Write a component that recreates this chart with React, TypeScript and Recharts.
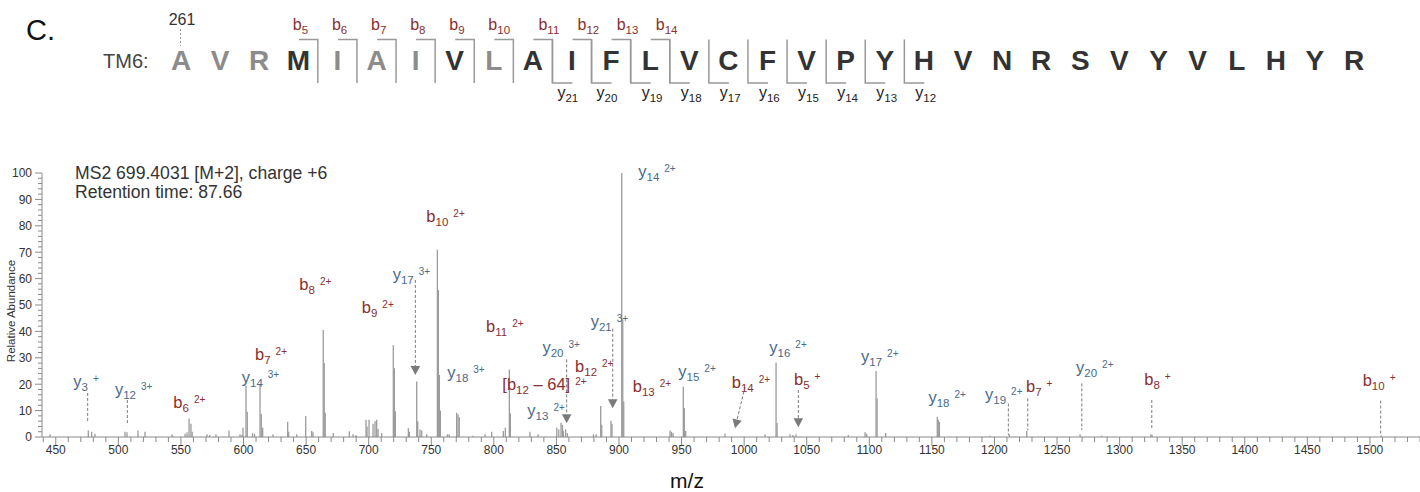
import React from 'react';
import { ComposedChart, XAxis, YAxis, ReferenceLine, Scatter } from 'recharts';

const FONT = '"Liberation Sans", Arial, Helvetica, sans-serif';
const B_COLOR = '#8b2e2e';
const Y_COLOR = '#4a6a8a';
const PEAK_COLOR = '#9b9b9b';
const AXIS_COLOR = '#8a8a8a';

// ---------- header (peptide sequence) ----------
const SEQUENCE = ['A','V','R','M','I','A','I','V','L','A','I','F','L','V','C','F','V','P','Y','H','V','N','R','S','V','Y','V','L','H','Y','R'];
const SEQ_DARK = [0,0,0,1,0,0,0,1,0,1,1,1,1,1,1,1,1,1,1,1,1,1,1,1,1,1,1,1,1,1,1];
const B_FRAGMENTS = [5,6,7,8,9,10,11,12,13,14];
const Y_FRAGMENTS = [21,20,19,18,17,16,15,14,13,12];
const START_RESIDUE = '261';
const PANEL = 'C.';
const PEPTIDE_NAME = 'TM6:';
const TITLE_LINES = ['MS2 699.4031 [M+2], charge +6', 'Retention time: 87.66'];

// ---------- spectrum ----------
const PEAK_MZ = [445.4, 476.0, 478.7, 481.3, 505.3, 506.9, 515.7, 521.3, 542.9, 553.3,
  554.9, 556.5, 558.0, 559.0, 570.8, 573.0, 578.0, 588.4, 597.2, 598.8,
  599.6, 602.0, 603.0, 607.2, 608.8, 613.2, 614.2, 615.3, 623.6, 635.3,
  636.1, 642.5, 649.7, 654.5, 655.5, 663.7, 664.5, 665.3, 671.7, 684.5,
  687.5, 689.9, 697.9, 698.7, 700.3, 703.5, 705.1, 706.4, 707.5, 710.4,
  719.7, 720.5, 721.3, 731.7, 732.5, 738.4, 739.2, 741.0, 742.4, 746.4,
  754.9, 755.7, 756.5, 757.3, 762.9, 764.3, 770.3, 771.4, 772.4, 783.4,
  793.0, 798.3, 807.6, 809.2, 812.4, 813.2, 828.9, 835.3, 850.3, 851.9,
  853.7, 854.8, 855.6, 857.4, 858.8, 879.6, 881.7, 885.4, 886.2, 893.6,
  894.4, 902.2, 903.0, 903.8, 940.8, 942.0, 943.2, 951.4, 952.2, 953.3,
  984.7, 1016.7, 1025.5, 1026.3, 1036.6, 1039.0, 1041.4, 1083.2, 1096.6, 1097.9,
  1105.4, 1106.2, 1113.1, 1154.3, 1155.1, 1156.0, 1196.5, 1211.9, 1225.8, 1268.4,
  1285.7, 1324.9, 1326.0, 1509.0];
const PEAK_INTENSITY = [1, 2.5, 2, 1.2, 2, 1.8, 2.5, 2, 1, 1.2,
  1.8, 7, 5, 2, 1, 0.8, 1, 2.5, 1, 0.8,
  3.5, 19.5, 9.6, 1.5, 1.2, 19.7, 8.7, 3.5, 1, 5.8,
  2, 1, 8, 2.3, 1.8, 40.5, 28, 9.2, 1.5, 2.2,
  1, 0.8, 6.5, 4, 6.5, 5, 6, 6.5, 3, 1.5,
  34.8, 26, 9.8, 3.3, 2, 21, 6, 2.8, 2.5, 1,
  71, 55.7, 23.5, 10, 1, 1, 9.2, 8.5, 7.5, 0.5,
  1, 2, 2.3, 3.5, 25.6, 9, 2, 1, 3.5, 2.8,
  5.4, 4.6, 2.4, 2.8, 1.5, 1, 1, 11.7, 4.6, 6.2,
  5, 100, 44.5, 13.4, 2.5, 2, 1.5, 19, 11, 2.3,
  1.2, 1, 28.2, 5.3, 1, 0.8, 1, 0.8, 1.8, 1.2,
  25, 14.7, 1.5, 7.7, 6.5, 5.7, 0.5, 1, 2.3, 1,
  0.5, 1, 0.8, 0.7];

// annotation labels: anchor (left of text, baseline)
const LABEL_ION = ['y','y','b','y','b','b','b','b','y','y','b','[b','y','y','b','y','y','b','y','b','y','b','y','y','y','b','y','b','b'];
const LABEL_SUB = ['3','12','6','14','7','8','9','10','17','18','11','12','13','20','12','21','14','13','15','14','16','5','17','18','19','7','20','8','10'];
const LABEL_SUFFIX = ['','','','','','','','','','','',' \u2013 64]','','','','','','','','','','','','','','','','',''];
const LABEL_CHARGE = ['+','3+','2+','3+','2+','2+','2+','2+','3+','3+','2+','2+','2+','3+','2+','3+','2+','2+','2+','2+','2+','+','2+','2+','2+','+','2+','+','+'];
const LABEL_MZ = [464.0, 497.3, 543.9, 598.6, 609.2, 644.6, 694.5, 746.1, 719.2, 762.8, 793.8, 806.8, 826.8, 838.8, 864.9, 877.4, 915.4, 911.0, 947.4, 990.1, 1020.1, 1039.8, 1093.4, 1147.2, 1192.5, 1225.2, 1265.2, 1319.7, 1494.2];
const LABEL_AT = [19.0, 15.9, 10.9, 20.3, 29.2, 55.7, 46.9, 81.6, 59.5, 22.2, 39.9, 17.8, 8.0, 31.7, 24.5, 41.8, 98.4, 17.2, 22.8, 18.4, 31.7, 19.7, 28.5, 12.8, 14.0, 17.2, 24.1, 19.7, 19.3];

// dashed pointers from a label down to its (small) peak
const POINTER_FROM_MZ = [475.5, 507.2, 1211.1, 1226.6, 1269.8, 1325.7, 1508.6, 737.3, 858.2, 895.0, 1000.7, 1043.3];
const POINTER_FROM = [16.7, 14.0, 12.7, 14.6, 20.3, 14.0, 13.8, 59.5, 29.4, 41.0, 19.0, 17.8];
const POINTER_TO_MZ = [475.5, 507.2, 1211.1, 1226.6, 1269.8, 1325.7, 1508.6, 737.3, 858.2, 895.0, 992.7, 1043.3];
const POINTER_TO = [5.3, 4.5, 0.7, 2.6, 2.6, 2.6, 0.8, 23.5, 5.2, 10.9, 3.3, 3.7];
const POINTER_ARROW = [0, 0, 0, 0, 0, 0, 0, 1, 1, 1, 1, 1];

const X_LABELS = [450, 500, 550, 600, 650, 700, 750, 800, 850, 900, 950, 1000, 1050, 1100, 1150, 1200, 1250, 1300, 1350, 1400, 1450, 1500];
const Y_LABELS = [0, 10, 20, 30, 40, 50, 60, 70, 80, 90, 100];
const X_DOMAIN: [number, number] = [439, 1540];

const xTicks: number[] = [];
for (let v = 440; v <= 1540; v += 10) xTicks.push(v);
const yTicks: number[] = [];
for (let v = 0; v <= 100; v += 2) yTicks.push(v);

const labelData = LABEL_ION.map((ion, i) => ({
  x: LABEL_MZ[i], y: LABEL_AT[i], ion, sub: LABEL_SUB[i], suffix: LABEL_SUFFIX[i], charge: LABEL_CHARGE[i],
}));

const XTick = (props: any) => {
  const { x, y, payload } = props;
  const v = payload.value;
  const major = X_LABELS.includes(v);
  return (
    <g>
      <line x1={x} x2={x} y1={y} y2={y + (major ? 9 : 5)} stroke={AXIS_COLOR} strokeWidth={1} />
      {major && (
        <text x={x} y={y + 16.5} textAnchor="middle" fontSize={12} fill="#333" fontFamily={FONT}>{v}</text>
      )}
    </g>
  );
};

const YTick = (props: any) => {
  const { x, y, payload } = props;
  const v = payload.value;
  const major = Y_LABELS.includes(v);
  return (
    <g>
      <line x1={x - (major ? 7 : 4)} x2={x} y1={y} y2={y} stroke={AXIS_COLOR} strokeWidth={1} />
      {major && (
        <text x={x - 10} y={y + 4.3} textAnchor="end" fontSize={12} fill="#333" fontFamily={FONT}>{v}</text>
      )}
    </g>
  );
};

const LabelShape = (props: any) => {
  const { cx, cy, payload } = props;
  if (cx == null || cy == null) return <g />;
  const color = payload.ion.includes('b') ? B_COLOR : Y_COLOR;
  const hasSuffix = payload.suffix !== '';
  return (
    <text x={cx} y={cy} fill={color} fontSize={16.5} fontFamily={FONT}>
      <tspan>{payload.ion}</tspan>
      <tspan fontSize={11.5} dy={4}>{payload.sub}</tspan>
      {hasSuffix ? <tspan fontSize={16.5} dy={-4}>{payload.suffix}</tspan> : null}
      <tspan fontSize={10} dx={5} dy={hasSuffix ? -5 : -9}>{payload.charge}</tspan>
    </text>
  );
};

const makePointer = (arrow: boolean) => (props: any) => {
  const { x1, y1, x2, y2 } = props;
  if (!arrow) {
    return <line x1={x1} y1={y1} x2={x2} y2={y2} stroke="#7a7a7a" strokeWidth={1} strokeDasharray="3 2" />;
  }
  const dx = x2 - x1;
  const dy = y2 - y1;
  const len = Math.hypot(dx, dy) || 1;
  const ux = dx / len;
  const uy = dy / len;
  const h = 9;
  const w = 4.8;
  const bx = x2 - ux * h;
  const by = y2 - uy * h;
  const nx = -uy;
  const ny = ux;
  return (
    <g>
      <line x1={x1} y1={y1} x2={bx} y2={by} stroke="#7a7a7a" strokeWidth={1} strokeDasharray="3 2" />
      <polygon points={`${x2},${y2} ${bx + nx * w},${by + ny * w} ${bx - nx * w},${by - ny * w}`} fill="#7a7a7a" />
    </g>
  );
};

// header layout helpers
const resX = (i: number) => 181 + i * 39.1;
const gapX = (i: number) => resX(i) + 19.55;

const Header = () => (
  <svg width={1420} height={492} style={{ position: 'absolute', left: 0, top: 0, pointerEvents: 'none' }}>
    <text x={26} y={40} fontSize={29} fill="#111" fontFamily={FONT}>{PANEL}</text>
    <text x={103} y={68} fontSize={20} fill="#444" fontFamily={FONT}>{PEPTIDE_NAME}</text>
    <text x={182} y={25} fontSize={16} fill="#333" textAnchor="middle" fontFamily={FONT}>{START_RESIDUE}</text>
    <line x1={180.5} x2={180.5} y1={29} y2={46} stroke="#999" strokeWidth={1} strokeDasharray="2 2" />
    {SEQUENCE.map((r, i) => (
      <text key={'r' + i} x={resX(i)} y={70} fontSize={28} fontWeight="bold" textAnchor="middle"
        fill={SEQ_DARK[i] ? '#333' : '#8c8c8c'} fontFamily={FONT}>{r}</text>
    ))}
    {B_FRAGMENTS.map((n) => {
      const gx = gapX(n - 2);
      return (
        <g key={'b' + n}>
          <path d={`M${gx - 19},39.5 H${gx} V83`} fill="none" stroke="#999" strokeWidth={1.5} />
          <text x={gx - (n <= 10 ? 25 : 14)} y={30} fill={B_COLOR} fontSize={16} fontFamily={FONT}>
            <tspan>b</tspan><tspan fontSize={11.5} dy={4}>{n}</tspan>
          </text>
        </g>
      );
    })}
    {Y_FRAGMENTS.map((n) => {
      const gx = gapX(30 - n);
      return (
        <g key={'y' + n}>
          <path d={`M${gx},39.5 V83 H${gx + 20}`} fill="none" stroke="#999" strokeWidth={1.5} />
          <text x={gx + (n >= 20 ? 5 : 11)} y={98} fill="#222" fontSize={16} fontFamily={FONT}>
            <tspan>y</tspan><tspan fontSize={11.5} dy={4}>{n}</tspan>
          </text>
        </g>
      );
    })}
    <text x={75} y={179} fontSize={17.6} fill="#333" fontFamily={FONT}>{TITLE_LINES[0]}</text>
    <text x={75} y={198} fontSize={17.6} fill="#333" fontFamily={FONT}>{TITLE_LINES[1]}</text>
    <text x={15} y={311} fontSize={11.5} fill="#333" textAnchor="middle" fontFamily={FONT}
      transform="rotate(-90, 15, 311)">Relative Abundance</text>
    <text x={687} y={488} fontSize={21} fill="#111" textAnchor="middle" fontFamily={FONT}>m/z</text>
  </svg>
);

export default function App() {
  return (
    <div style={{ position: 'absolute', left: 0, top: 0, width: 1420, height: 492, background: '#fff', fontFamily: FONT }}>
      <ComposedChart width={1420} height={492} margin={{ top: 173, right: 0, bottom: 0, left: 8 }}>
        <XAxis type="number" dataKey="x" domain={X_DOMAIN} ticks={xTicks} interval={0}
          height={55} tickSize={0} tickMargin={0} tickLine={false} tick={<XTick />}
          axisLine={{ stroke: AXIS_COLOR, strokeWidth: 1 }} />
        <YAxis type="number" dataKey="y" domain={[0, 100]} ticks={yTicks} interval={0}
          width={34} tickSize={0} tickMargin={0} tickLine={false} tick={<YTick />}
          axisLine={{ stroke: AXIS_COLOR, strokeWidth: 1 }} />
        {PEAK_MZ.map((mz, i) => (
          <ReferenceLine key={'p' + i} segment={[{ x: mz, y: 0 }, { x: mz, y: PEAK_INTENSITY[i] }]}
            stroke={PEAK_COLOR} strokeWidth={1.3} ifOverflow="visible" />
        ))}
        {POINTER_FROM_MZ.map((mz, i) => (
          <ReferenceLine key={'ptr' + i}
            segment={[{ x: mz, y: POINTER_FROM[i] }, { x: POINTER_TO_MZ[i], y: POINTER_TO[i] }]}
            ifOverflow="visible" shape={makePointer(POINTER_ARROW[i] === 1)} />
        ))}
        <Scatter data={labelData} shape={LabelShape} isAnimationActive={false} />
      </ComposedChart>
      <Header />
    </div>
  );
}
